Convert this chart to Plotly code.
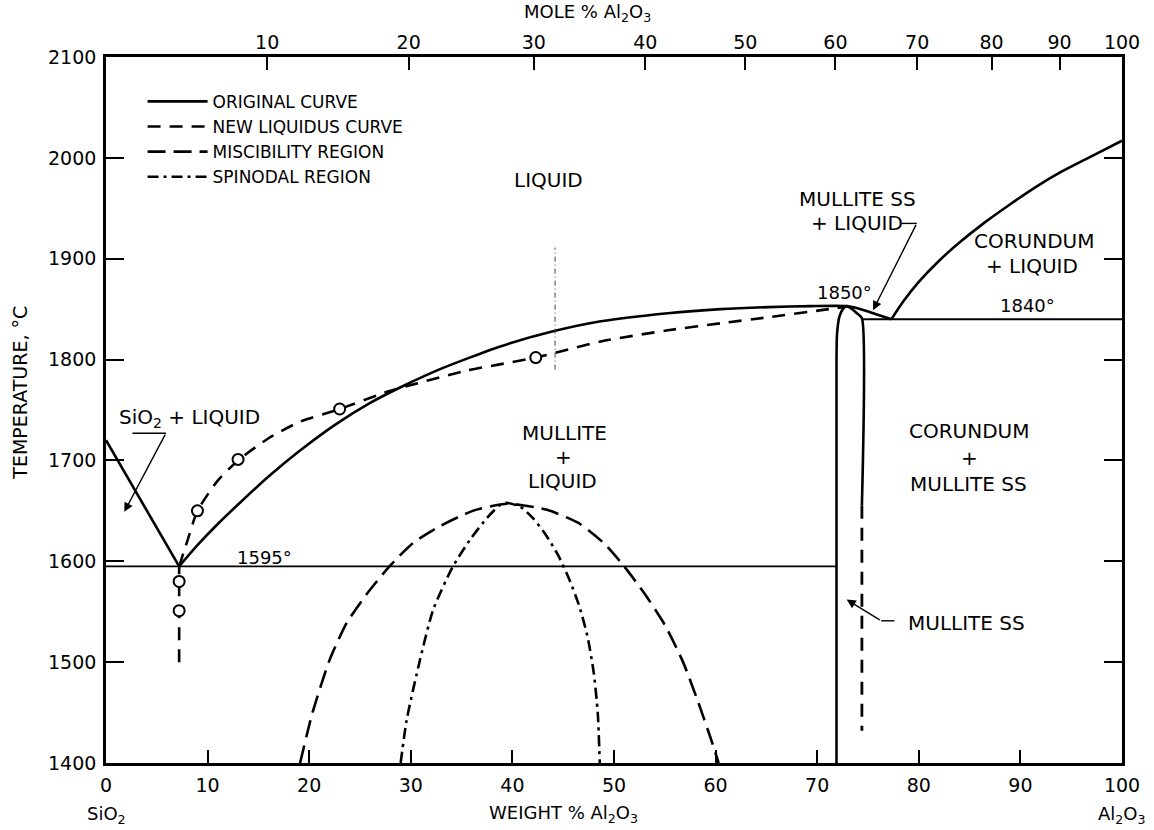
import plotly.graph_objects as go

FONT = "DejaVu Sans"
INK = "black"

# ---------------- axes ----------------
wt_ticks = list(range(0, 101, 10))
temp_ticks = list(range(1400, 2101, 100))
mole_ticks = [10, 20, 30, 40, 50, 60, 70, 80, 90, 100]
M_AL2O3 = 101.96
M_SIO2 = 60.08
# mole % Al2O3 converted to weight % for the top scale
mole_tick_wt = [100.0 * m * M_AL2O3 / (m * M_AL2O3 + (100 - m) * M_SIO2) for m in mole_ticks]

# ---------------- original curves (solid) ----------------
sio2_liq_wt = [0.0, 7.2]
sio2_liq_t = [1720, 1595]

mullite_liq_wt = [7.2, 9.0, 11.0, 13.5, 16.0, 19.0, 22.5, 26.0, 29.5, 33.0, 38.8, 44.0,
                  48.7, 55.3, 60.5, 65.2, 69.4, 72.9, 74.3, 75.8, 77.3]
mullite_liq_t = [1595, 1616, 1637, 1661, 1684, 1709, 1735, 1757, 1775, 1791, 1813, 1828,
                 1838, 1846, 1850, 1852, 1853, 1853, 1850, 1845, 1840]

corundum_liq_wt = [77.3, 78.5, 80.0, 82.0, 84.0, 86.5, 89.0, 91.5, 94.0, 96.5, 100.0]
corundum_liq_t = [1840, 1858, 1877, 1898, 1916, 1936, 1954, 1971, 1986, 1999, 2017]

mullite_ss_wt = [71.9, 71.9, 71.95, 72.2, 72.6, 72.9, 73.3, 73.9, 74.4, 74.4]
mullite_ss_t = [1400, 1800, 1825, 1843, 1851, 1853, 1851, 1846, 1841, 1655]

eutectic_wt = [0.0, 71.9]
eutectic_t = [1595, 1595]
peritectic_wt = [74.4, 100.0]
peritectic_t = [1840, 1840]

# ---------------- new liquidus (dashed) ----------------
new_stem_wt = [7.2, 7.2]
new_stem_t = [1500, 1595]
new_liq_wt = [7.2, 8.0, 9.0, 11.0, 13.0, 16.0, 19.0, 23.0, 28.0, 35.5, 42.3,
              48.7, 55.3, 60.5, 65.2, 70.4, 72.6]
new_liq_t = [1595, 1620, 1650, 1680, 1700, 1722, 1738, 1751, 1769, 1789, 1802,
             1818, 1829, 1836, 1842, 1849, 1852]
new_ss_wt = [74.4, 74.4]
new_ss_t = [1655, 1432]
obs_wt = [7.2, 7.2, 9.0, 13.0, 23.0, 42.3]
obs_t = [1580, 1551, 1650, 1701, 1751, 1802]

# ---------------- immiscibility domes ----------------
misc_wt = [19.1, 20.3, 22.0, 23.7, 25.7, 27.9, 30.2, 32.9, 36.1, 39.5,
           43.4, 46.5, 49.0, 51.0, 53.0, 55.0, 56.8, 58.3, 59.5, 60.3]
misc_t = [1400, 1449, 1502, 1539, 1568, 1595, 1618, 1635, 1650, 1657,
          1651, 1638, 1618, 1595, 1568, 1537, 1500, 1460, 1425, 1400]
spin_wt = [29.0, 29.6, 30.9, 32.2, 34.1, 35.8, 37.5, 38.8, 39.4,
           40.8, 42.0, 43.3, 44.5, 45.6, 46.6, 47.4, 48.0, 48.4, 48.6]
spin_t = [1400, 1443, 1502, 1552, 1594, 1621, 1643, 1656, 1658,
          1654, 1643, 1626, 1606, 1582, 1555, 1525, 1490, 1450, 1400]

# construction line left on the drawing
guide_wt = [44.2, 44.2]
guide_t = [1790, 1911]

NEW_DASH = "13px,9px"
MISC_DASH = "18px,8px"
SPIN_DASH = "11px,5px,3px,5px"

fig = go.Figure()


def add_line(x, y, name=None, dash="solid", width=2.6, smooth=True, legend=False, group=None):
    fig.add_trace(go.Scatter(
        x=x, y=y, mode="lines", name=name, legendgroup=group, showlegend=legend,
        line=dict(color=INK, width=width, dash=dash,
                  shape="spline" if smooth else "linear", smoothing=0.6),
        hoverinfo="skip"))


add_line(mullite_liq_wt, mullite_liq_t, "ORIGINAL CURVE", legend=True, group="orig")
add_line(new_liq_wt, new_liq_t, "NEW LIQUIDUS CURVE", dash=NEW_DASH, legend=True, group="new")
add_line(misc_wt, misc_t, "MISCIBILITY REGION", dash=MISC_DASH, legend=True, group="misc")
add_line(spin_wt, spin_t, "SPINODAL REGION", dash=SPIN_DASH, legend=True, group="spin")

add_line(sio2_liq_wt, sio2_liq_t, smooth=False, group="orig")
add_line(corundum_liq_wt, corundum_liq_t, group="orig")
add_line(mullite_ss_wt, mullite_ss_t, group="orig")
add_line(eutectic_wt, eutectic_t, width=1.8, smooth=False, group="orig")
add_line(peritectic_wt, peritectic_t, width=1.8, smooth=False, group="orig")
add_line(new_stem_wt, new_stem_t, dash=NEW_DASH, smooth=False, group="new")
add_line(new_ss_wt, new_ss_t, dash=NEW_DASH, width=2.8, smooth=False, group="new")

fig.add_trace(go.Scatter(
    x=guide_wt, y=guide_t, mode="lines", showlegend=False, hoverinfo="skip",
    line=dict(color="#444444", width=1, dash="5px,3px,1px,3px")))

fig.add_trace(go.Scatter(
    x=obs_wt, y=obs_t, mode="markers", showlegend=False, hoverinfo="skip",
    marker=dict(symbol="circle", size=11, color="white",
                line=dict(color=INK, width=2))))

# empty trace so the mole-% scale is drawn along the top
fig.add_trace(go.Scatter(x=[], y=[], xaxis="x2", showlegend=False, hoverinfo="skip"))


def label(x, y, text, size=20, **kw):
    fig.add_annotation(x=x, y=y, xref="x", yref="y", text=text, showarrow=False,
                       font=dict(family=FONT, size=size, color=INK), **kw)


label(43.6, 1978, "LIQUID")
label(45.1, 1727, "MULLITE")
label(45.0, 1703, "+")
label(44.9, 1680, "LIQUID")
label(85.0, 1729, "CORUNDUM")
label(85.0, 1702, "+")
label(84.9, 1677, "MULLITE SS")
label(91.4, 1918, "CORUNDUM")
label(91.1, 1893, "+ LIQUID")
label(74.0, 1959, "MULLITE SS")
label(73.9, 1935, "+ LIQUID")
label(84.7, 1539, "MULLITE SS")
label(8.2, 1742, "SiO<sub>2</sub> + LIQUID")
label(72.7, 1867, "1850°", size=18)
label(90.7, 1854, "1840°", size=18)
label(15.6, 1604, "1595°", size=18)


def arrow(x_head, y_head, x_tail, y_tail):
    fig.add_annotation(x=x_head, y=y_head, ax=x_tail, ay=y_tail, xref="x", yref="y",
                       axref="x", ayref="y", text="", showarrow=True, arrowhead=2,
                       arrowsize=1.3, arrowwidth=1.4, arrowcolor=INK)


def leader(x0, x1, y):
    fig.add_shape(type="line", xref="x", yref="y", x0=x0, x1=x1, y0=y, y1=y,
                  line=dict(color=INK, width=1.4))


leader(2.6, 5.9, 1727)
arrow(1.8, 1649, 5.9, 1727)
leader(78.3, 79.8, 1935)
arrow(75.5, 1849, 79.8, 1935)
leader(76.3, 77.6, 1541)
arrow(72.9, 1562, 76.3, 1541)


# axis titles and end-member names
def paper_text(x, y, text, size=18, **kw):
    fig.add_annotation(x=x, y=y, xref="paper", yref="paper", text=text, showarrow=False,
                       xanchor="center", yanchor="middle",
                       font=dict(family=FONT, size=size, color=INK), **kw)


paper_text(0.474, 1.062, "MOLE % Al<sub>2</sub>O<sub>3</sub>")
paper_text(0.450, -0.072, "WEIGHT % Al<sub>2</sub>O<sub>3</sub>")
paper_text(0.0, -0.074, "SiO<sub>2</sub>")
paper_text(1.0, -0.074, "Al<sub>2</sub>O<sub>3</sub>")
paper_text(-0.085, 0.524, "TEMPERATURE, °C", size=19, textangle=-90)

tick_font = dict(family=FONT, size=19, color=INK)

fig.update_layout(
    width=1154, height=830,
    margin=dict(l=106, r=32, t=57, b=67),
    paper_bgcolor="white", plot_bgcolor="white",
    showlegend=True,
    legend=dict(x=0.036, y=0.962, xanchor="left", yanchor="top",
                bgcolor="rgba(0,0,0,0)", borderwidth=0, itemwidth=60,
                tracegroupgap=0, font=dict(family=FONT, size=17, color=INK)),
    xaxis=dict(range=[0, 100], tickvals=wt_ticks, ticktext=[str(v) for v in wt_ticks],
               ticks="inside", ticklen=13, tickwidth=2, tickcolor=INK,
               showline=True, linewidth=2.6, linecolor=INK, mirror=True,
               showgrid=False, zeroline=False, tickfont=tick_font,
               ticklabelstandoff=3),
    xaxis2=dict(range=[0, 100], overlaying="x", side="top", anchor="y",
                tickvals=mole_tick_wt, ticktext=[str(m) for m in mole_ticks],
                ticks="inside", ticklen=13, tickwidth=2, tickcolor=INK,
                showline=False, showgrid=False, zeroline=False, tickfont=tick_font,
                ticklabelstandoff=3),
    yaxis=dict(range=[1400, 2100], tickvals=temp_ticks,
               ticks="inside", ticklen=18, tickwidth=2, tickcolor=INK,
               showline=True, linewidth=2.6, linecolor=INK, mirror="ticks",
               showgrid=False, zeroline=False, tickfont=tick_font,
               ticklabelstandoff=3),
)

fig.write_html("out.html")
